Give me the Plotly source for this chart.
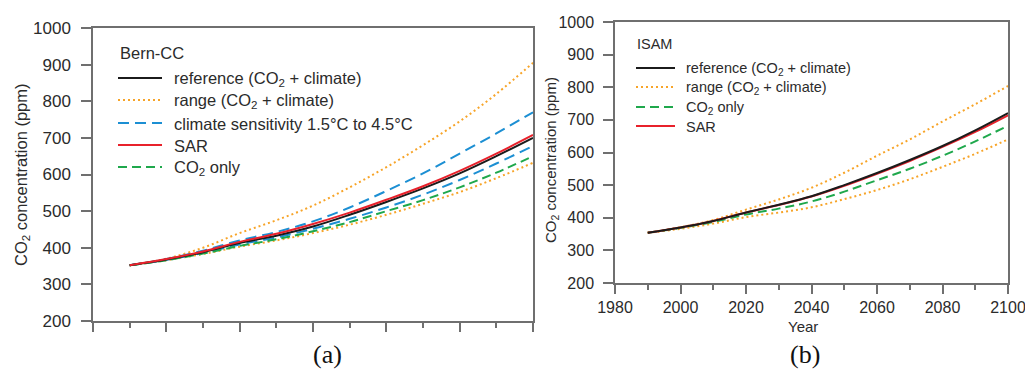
import plotly.graph_objects as go

years = [1990, 2000, 2010, 2020, 2030, 2040, 2050, 2060, 2070, 2080, 2090, 2100]

# Panel (a) Bern-CC
a_reference = [352, 368, 388, 413, 433, 458, 490, 525, 562, 603, 650, 700]
a_sar = [352, 369, 390, 416, 438, 465, 496, 531, 568, 610, 657, 708]
a_range_hi = [352, 370, 400, 440, 475, 515, 565, 620, 680, 745, 820, 905]
a_range_lo = [352, 366, 383, 403, 420, 440, 463, 490, 520, 552, 590, 632]
a_sens_hi = [352, 369, 392, 420, 443, 472, 510, 555, 603, 657, 712, 770]
a_sens_lo = [352, 367, 386, 409, 428, 452, 479, 510, 545, 585, 630, 678]
a_co2only = [352, 366, 384, 405, 423, 445, 470, 500, 530, 565, 605, 650]

# Panel (b) ISAM
b_reference = [354, 370, 390, 416, 440, 466, 500, 537, 577, 620, 668, 721]
b_sar = [354, 370, 390, 416, 439, 465, 498, 535, 574, 617, 663, 714]
b_range_hi = [354, 371, 393, 425, 456, 492, 538, 590, 640, 695, 748, 804]
b_range_lo = [354, 366, 382, 402, 416, 432, 457, 485, 518, 556, 596, 640]
b_co2only = [354, 369, 387, 410, 428, 450, 480, 515, 550, 590, 634, 682]

# Legend labels
a_legend_title = "Bern-CC"
a_legend_labels = ["reference (CO<sub>2</sub> + climate)", "range (CO<sub>2</sub> + climate)",
                   "climate sensitivity 1.5°C to 4.5°C", "SAR", "CO<sub>2</sub> only"]
b_legend_title = "ISAM"
b_legend_labels = ["reference (CO<sub>2</sub> + climate)", "range (CO<sub>2</sub> + climate)",
                   "CO<sub>2</sub> only", "SAR"]

BLACK = "#1b1b1b"
ORANGE = "#F7A428"
BLUE = "#1C8FD3"
RED = "#E8212B"
GREEN = "#1FA84C"
AX = "#6f6f6f"
TXT = "#2b2b2b"
FONT = "Liberation Sans, Arial, sans-serif"
DOT = "2px,3px"
DASH_B = "11px,6px"
DASH_G = "9px,5px"

fig = go.Figure()

def add(x, y, name, color, dash, xa, ya, w=2):
    fig.add_trace(go.Scatter(x=x, y=y, mode="lines", name=name,
                             line=dict(color=color, dash=dash, width=w, shape="spline"),
                             xaxis=xa, yaxis=ya, showlegend=False, hoverinfo="skip"))

# panel a
add(years, a_range_hi, "range hi", ORANGE, DOT, "x", "y")
add(years, a_range_lo, "range lo", ORANGE, DOT, "x", "y")
add(years, a_sens_hi, "sens hi", BLUE, DASH_B, "x", "y")
add(years, a_sens_lo, "sens lo", BLUE, DASH_B, "x", "y")
add(years, a_co2only, "CO2 only", GREEN, DASH_G, "x", "y")
add(years, a_reference, "reference", BLACK, "solid", "x", "y")
add(years, a_sar, "SAR", RED, "solid", "x", "y")

# panel b
add(years, b_range_hi, "range hi", ORANGE, DOT, "x2", "y2")
add(years, b_range_lo, "range lo", ORANGE, DOT, "x2", "y2")
add(years, b_co2only, "CO2 only", GREEN, DASH_G, "x2", "y2")
add(years, b_sar, "SAR", RED, "solid", "x2", "y2")
add(years, b_reference, "reference", BLACK, "solid", "x2", "y2")

W, H = 1025, 369

def px_x(p):
    return p / W

def px_y(p):
    return 1 - p / H

common_x = dict(range=[1980, 2100], dtick=20, tick0=1980, ticks="outside", ticklen=9,
                tickwidth=1.5, tickcolor=AX, showline=True, linecolor=AX, linewidth=1.5,
                mirror=True, showgrid=False, zeroline=False, automargin=False,
                ticklabeloverflow="allow",
                minor=dict(dtick=10, tick0=1980, ticks="outside", ticklen=5, tickwidth=1.5,
                           tickcolor=AX, showgrid=False))
common_y = dict(range=[200, 1000], dtick=100, ticks="outside", ticklen=10, tickwidth=1.5,
                tickcolor=AX, showline=True, linecolor=AX, linewidth=1.5, mirror=True,
                showgrid=False, zeroline=False, automargin=False, ticklabeloverflow="allow")

fig.update_layout(
    width=W, height=H,
    margin=dict(l=0, r=0, t=0, b=0, autoexpand=False),
    paper_bgcolor="white", plot_bgcolor="white",
    font=dict(family=FONT, color=TXT),
    showlegend=False,
    xaxis=dict(domain=[px_x(93), px_x(533)], anchor="y", showticklabels=False, **common_x),
    yaxis=dict(domain=[px_y(321), px_y(28)], anchor="x",
               tickfont=dict(size=17, color=TXT), ticklabelstandoff=7, **common_y),
    xaxis2=dict(domain=[px_x(615), px_x(1008)], anchor="y2", ticklabelstandoff=0,
                tickfont=dict(size=16, color=TXT), **common_x),
    yaxis2=dict(domain=[px_y(283), px_y(22)], anchor="x2",
                tickfont=dict(size=16, color=TXT), ticklabelstandoff=6, **common_y),
)

# manual legends (sample lines + labels)
a_styles = [(BLACK, "solid"), (ORANGE, DOT), (BLUE, DASH_B), (RED, "solid"), (GREEN, DASH_G)]
a_rows = [78, 100, 123, 145, 167]
for (col, dsh), lab, ry in zip(a_styles, a_legend_labels, a_rows):
    fig.add_shape(type="line", xref="paper", yref="paper", x0=px_x(118), x1=px_x(162),
                  y0=px_y(ry), y1=px_y(ry), line=dict(color=col, dash=dsh, width=2))
    fig.add_annotation(xref="paper", yref="paper", x=px_x(172), y=px_y(ry + 1), text=lab,
                       showarrow=False, xanchor="left", yanchor="middle",
                       font=dict(size=16.5, color=TXT))
fig.add_annotation(xref="paper", yref="paper", x=px_x(118), y=px_y(53), text=a_legend_title,
                   showarrow=False, xanchor="left", yanchor="middle", font=dict(size=16.5, color=TXT))

b_styles = [(BLACK, "solid"), (ORANGE, DOT), (GREEN, DASH_G), (RED, "solid")]
b_rows = [68, 87, 107, 126]
for (col, dsh), lab, ry in zip(b_styles, b_legend_labels, b_rows):
    fig.add_shape(type="line", xref="paper", yref="paper", x0=px_x(636), x1=px_x(675),
                  y0=px_y(ry), y1=px_y(ry), line=dict(color=col, dash=dsh, width=2))
    fig.add_annotation(xref="paper", yref="paper", x=px_x(684), y=px_y(ry + 1), text=lab,
                       showarrow=False, xanchor="left", yanchor="middle",
                       font=dict(size=14.5, color=TXT))
fig.add_annotation(xref="paper", yref="paper", x=px_x(635), y=px_y(44), text=b_legend_title,
                   showarrow=False, xanchor="left", yanchor="middle", font=dict(size=14.5, color=TXT))

ann = [
    dict(text="CO<sub>2</sub> concentration (ppm)", x=px_x(22), y=px_y(175), textangle=-90,
         font=dict(size=16.5, color=TXT)),
    dict(text="CO<sub>2</sub> concentration (ppm)", x=px_x(551), y=px_y(160), textangle=-90,
         font=dict(size=15, color=TXT)),
    dict(text="Year", x=px_x(803), y=px_y(326), font=dict(size=15, color=TXT)),
    dict(text="(a)", x=px_x(327), y=px_y(354), font=dict(size=26, color="#111",
                                                        family="Liberation Serif, serif")),
    dict(text="(b)", x=px_x(805), y=px_y(354), font=dict(size=26, color="#111",
                                                        family="Liberation Serif, serif")),
]
for a in ann:
    fig.add_annotation(xref="paper", yref="paper", showarrow=False,
                       xanchor="center", yanchor="middle", **a)

fig.write_html("out.html", config={"displayModeBar": False},
               post_script="document.body.style.margin='0px';document.body.style.overflow='hidden';")
